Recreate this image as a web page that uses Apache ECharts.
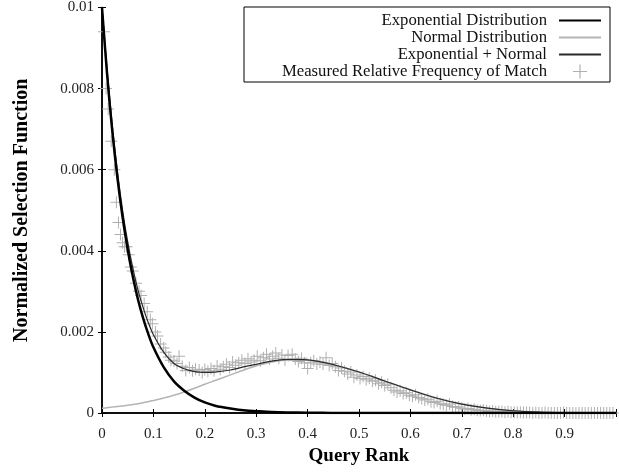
<!DOCTYPE html>
<html>
<head>
<meta charset="utf-8">
<title>Normalized Selection Function</title>
<script src="https://cdn.jsdelivr.net/npm/echarts@6/dist/echarts.min.js"></script>
<style>
  html, body { margin: 0; padding: 0; background: #fff; }
  #main { width: 619px; height: 473px; }
</style>
</head>
<body>
<div id="main"></div>
<script>
const curveX = [0, 0.01, 0.02, 0.03, 0.04, 0.05, 0.06, 0.07, 0.08, 0.09, 0.1, 0.12, 0.14, 0.16, 0.18, 0.2,
  0.22, 0.25, 0.28, 0.3, 0.33, 0.36, 0.4, 0.43, 0.46, 0.5, 0.55, 0.6, 0.65, 0.7, 0.75, 0.8, 0.85, 0.9, 0.95, 1.0]

// exponential part (black)
const expY = [0.0100, 0.00834, 0.00695, 0.0058, 0.00483, 0.00403, 0.00336, 0.0028, 0.00234, 0.00195, 0.00162,
  0.00113, 0.00078, 0.00055, 0.00038, 0.00026, 0.00018, 0.00011, 0.00006, 0.000045, 0.000025, 0.000014,
  0.000007, 0.000004, 0.000002, 0.000001, 0, 0, 0, 0, 0, 0, 0, 0, 0, 0]

// normal part (light grey)
const normY = [0.00012, 0.00013, 0.000145, 0.00016, 0.000175, 0.00019, 0.00021, 0.00023, 0.000255, 0.00028,
  0.00031, 0.00037, 0.00044, 0.00052, 0.00061, 0.00071, 0.0008, 0.00094, 0.00108, 0.00116, 0.00126, 0.00131,
  0.0013, 0.00125, 0.00116, 0.00101, 0.00079, 0.00057, 0.00037, 0.00022, 0.00012, 0.000055, 0.000022,
  0.000008, 0.000003, 0.000001]

// exponential + normal (dark grey)
const sumY = [0.0100, 0.00847, 0.0071, 0.00596, 0.005, 0.00422, 0.00357, 0.00303, 0.0026, 0.00223,
  0.00193, 0.0015, 0.00122, 0.00109, 0.00102, 0.001, 0.00101, 0.00106, 0.00115, 0.0012, 0.00128, 0.00132,
  0.00131, 0.00125, 0.00116, 0.00101, 0.00079, 0.00057, 0.00037, 0.00022, 0.00012, 0.000055, 0.000022,
  0.000008, 0.000003, 0.000001]

// measured relative frequency of match, [rank, frequency]
const measured = [
  [0.004, 0.0094], [0.008, 0.0080], [0.012, 0.0075], [0.018, 0.0067], [0.024, 0.0060], [0.028, 0.0052],
  [0.032, 0.0047], [0.036, 0.0044], [0.040, 0.0042], [0.044, 0.0041], [0.048, 0.0041], [0.052, 0.0039],
  [0.056, 0.0036], [0.060, 0.0035], [0.066, 0.0032], [0.072, 0.0030], [0.076, 0.0029], [0.082, 0.0027],
  [0.088, 0.0025], [0.094, 0.0023], [0.098, 0.0022], [0.104, 0.0020], [0.108, 0.0019], [0.114, 0.0017],
  [0.120, 0.0016], [0.124, 0.0015], [0.130, 0.00138], [0.134, 0.0013], [0.140, 0.00128], [0.146, 0.00122],
  [0.150, 0.0014], [0.156, 0.00115], [0.163, 0.00105], [0.170, 0.00112], [0.176, 0.00104], [0.182, 0.00108],
  [0.189, 0.00106], [0.195, 0.001], [0.200, 0.00107], [0.206, 0.00103], [0.212, 0.0011], [0.218, 0.00104],
  [0.224, 0.00116], [0.230, 0.00108], [0.236, 0.00114], [0.242, 0.0012], [0.248, 0.00112], [0.254, 0.00126],
  [0.260, 0.00118], [0.266, 0.00124], [0.272, 0.0013], [0.278, 0.00122], [0.284, 0.00134], [0.290, 0.00126],
  [0.296, 0.0013], [0.302, 0.0014], [0.308, 0.00129], [0.314, 0.00136], [0.320, 0.00145], [0.326, 0.00133],
  [0.332, 0.0014], [0.338, 0.00148], [0.344, 0.00135], [0.350, 0.00143], [0.356, 0.00131], [0.362, 0.00142],
  [0.370, 0.00145], [0.376, 0.00133], [0.382, 0.00127], [0.388, 0.00135], [0.394, 0.00123], [0.400, 0.0011],
  [0.406, 0.00124], [0.412, 0.00129], [0.418, 0.00121], [0.424, 0.00126], [0.430, 0.0012], [0.436, 0.00136],
  [0.442, 0.00117], [0.448, 0.00122], [0.454, 0.00114], [0.460, 0.00105], [0.466, 0.00111], [0.472, 0.00103],
  [0.478, 0.00096], [0.484, 0.00101], [0.490, 0.00088], [0.496, 0.00094], [0.502, 0.00085], [0.508, 0.0009],
  [0.514, 0.00082], [0.520, 0.00086], [0.526, 0.00078], [0.532, 0.00081], [0.538, 0.00072], [0.544, 0.00076],
  [0.550, 0.00068], [0.556, 0.00071], [0.562, 0.00062], [0.568, 0.00056], [0.574, 0.00052], [0.580, 0.00055],
  [0.586, 0.00048], [0.592, 0.0005], [0.598, 0.00044], [0.604, 0.00041], [0.610, 0.00045], [0.616, 0.00038],
  [0.622, 0.00035], [0.628, 0.00032], [0.634, 0.00034], [0.640, 0.00028], [0.646, 0.00026], [0.652, 0.00029],
  [0.658, 0.00023], [0.664, 0.00021], [0.670, 0.00019], [0.676, 0.00022], [0.682, 0.00016], [0.688, 0.00014],
  [0.694, 0.00015], [0.700, 0.00012], [0.706, 0.0001], [0.712, 0.00011], [0.718, 0.00008], [0.724, 0.00009],
  [0.730, 0.00007], [0.736, 0.00006], [0.742, 0.00007], [0.748, 0.00005], [0.754, 0.00004], [0.760, 0.00005],
  [0.766, 0.00003], [0.772, 0.00004], [0.778, 0.00003], [0.784, 0.00002], [0.790, 0.00003], [0.796, 0.00002],
  [0.802, 0.00002], [0.808, 0.00001], [0.814, 0.00002], [0.820, 0.00001], [0.826, 0.00001], [0.832, 0.00001],
  [0.838, 0], [0.844, 0.00001], [0.850, 0], [0.856, 0], [0.862, 0.00001], [0.868, 0], [0.874, 0], [0.880, 0],
  [0.886, 0], [0.892, 0], [0.898, 0.00001], [0.904, 0], [0.910, 0], [0.916, 0], [0.922, 0], [0.928, 0],
  [0.934, 0], [0.940, 0], [0.946, 0], [0.952, 0], [0.958, 0], [0.964, 0], [0.970, 0], [0.976, 0],
  [0.982, 0], [0.988, 0], [0.994, 0]
]

const seriesNames = ['Exponential Distribution', 'Normal Distribution', 'Exponential + Normal',
  'Measured Relative Frequency of Match']

const serif = 'Liberation Serif'
const plus = 'path://M0,5.5H12V6.5H0Z M5.5,0H6.5V12H5.5Z'

const pairs = (ys) => curveX.map((x, i) => [x, ys[i]])

const axisLine = { show: true, lineStyle: { color: '#000', width: 1.5 } }
const tickIn = { show: true, inside: true, length: 4, lineStyle: { color: '#000', width: 1 } }
// legend shows only the line for the three curves
const noDot = { opacity: 0 }

const myChart = echarts.init(document.getElementById('main'), null, { renderer: 'canvas' })

myChart.setOption({
  animation: false,
  backgroundColor: '#fff',
  grid: { left: 102, right: 2, top: 3, bottom: 60, containLabel: false },
  graphic: [{
    // key box
    type: 'rect',
    shape: { x: 244, y: 7, width: 366, height: 75 },
    style: { fill: 'none', stroke: '#000', lineWidth: 1 },
    z: 5
  }],
  legend: {
    data: [
      { name: seriesNames[0], itemStyle: noDot },
      { name: seriesNames[1], itemStyle: noDot },
      { name: seriesNames[2], itemStyle: noDot },
      { name: seriesNames[3] }
    ],
    orient: 'vertical',
    align: 'right',
    right: 17,
    top: 12,
    padding: 0,
    itemWidth: 42,
    itemHeight: 14,
    itemGap: 0,
    textStyle: { fontFamily: serif, fontSize: 16.7, color: '#111', padding: [0, 7, 0, 0] }
  },
  xAxis: [
    {
      type: 'value',
      min: 0,
      max: 1,
      interval: 0.1,
      position: 'bottom',
      axisLine: axisLine,
      axisTick: tickIn,
      splitLine: { show: false },
      axisLabel: {
        margin: 14,
        fontFamily: serif,
        fontSize: 15,
        color: '#222',
        formatter: (v) => (v >= 1 ? '' : String(+v.toFixed(1)))
      },
      name: 'Query Rank',
      nameLocation: 'middle',
      nameGap: 32,
      nameTextStyle: { fontFamily: serif, fontWeight: 'bold', fontSize: 19, color: '#000' }
    },
    {
      type: 'value',
      min: 0,
      max: 1,
      interval: 0.1,
      position: 'top',
      axisLine: axisLine,
      axisTick: tickIn,
      axisLabel: { show: false },
      splitLine: { show: false }
    }
  ],
  yAxis: [
    {
      type: 'value',
      min: 0,
      max: 0.01,
      interval: 0.002,
      position: 'left',
      axisLine: axisLine,
      axisTick: tickIn,
      splitLine: { show: false },
      axisLabel: {
        margin: 8,
        fontFamily: serif,
        fontSize: 15,
        color: '#222',
        formatter: (v) => String(+v.toFixed(3))
      },
      name: 'Normalized Selection Function',
      nameLocation: 'middle',
      nameGap: 70,
      nameTextStyle: { fontFamily: serif, fontWeight: 'bold', fontSize: 20, color: '#000' }
    },
    {
      type: 'value',
      min: 0,
      max: 0.01,
      interval: 0.002,
      position: 'right',
      axisLine: axisLine,
      axisTick: tickIn,
      axisLabel: { show: false },
      splitLine: { show: false }
    }
  ],
  series: [
    {
      name: seriesNames[0],
      type: 'line',
      data: pairs(expY),
      smooth: 0.3,
      symbol: 'none',
      z: 4,
      lineStyle: { color: '#000', width: 2.5 },
      itemStyle: { color: '#000' }
    },
    {
      name: seriesNames[1],
      type: 'line',
      data: pairs(normY),
      smooth: 0.3,
      symbol: 'none',
      z: 3,
      lineStyle: { color: '#b4b4b4', width: 1.5 },
      itemStyle: { color: '#b4b4b4' }
    },
    {
      name: seriesNames[2],
      type: 'line',
      data: pairs(sumY),
      smooth: 0.3,
      symbol: 'none',
      z: 3,
      lineStyle: { color: '#2a2a2a', width: 1.2 },
      itemStyle: { color: '#2a2a2a' }
    },
    {
      name: seriesNames[3],
      type: 'scatter',
      data: measured,
      symbol: plus,
      symbolSize: 12,
      z: 2,
      itemStyle: { color: '#b0b0b0', opacity: 1 }
    }
  ]
})
</script>
</body>
</html>
